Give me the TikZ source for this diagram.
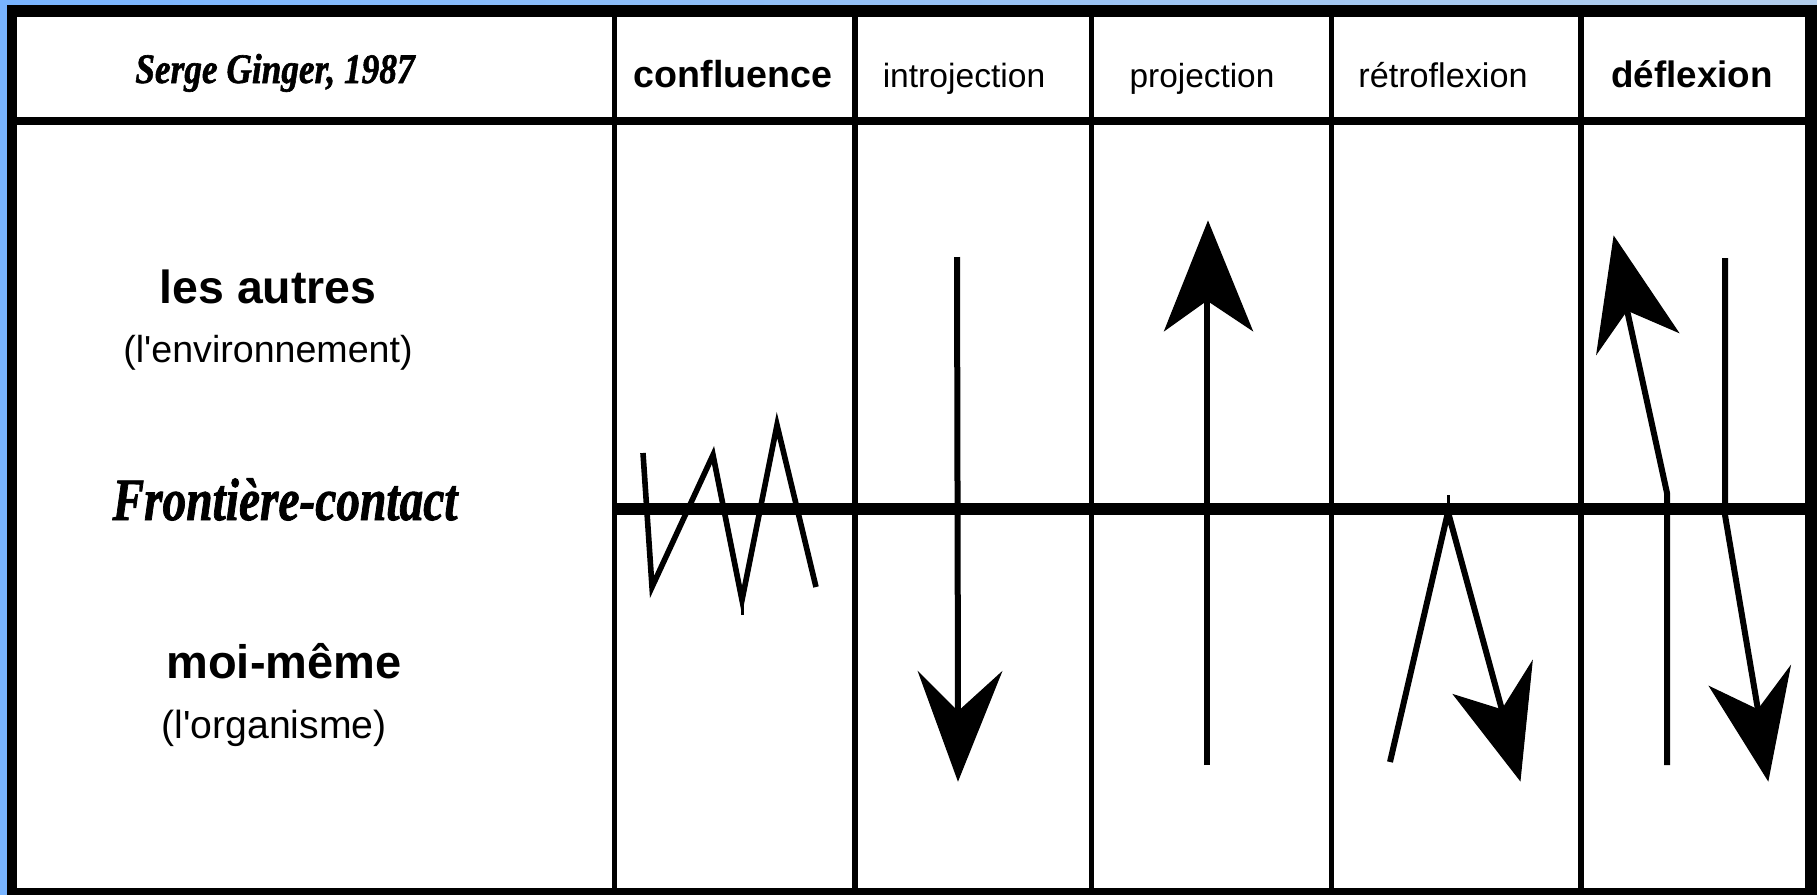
\documentclass[tikz,border=0pt]{standalone}
\usepackage{fontspec}
\usepackage{graphicx}
\setmainfont{Liberation Sans}
\newfontfamily\serifbi{Liberation Serif Bold Italic}[FakeBold=1.5]
\definecolor{bluel}{RGB}{120,180,255}
\definecolor{bluer}{RGB}{178,205,235}
\begin{document}
\begin{tikzpicture}[x=0.5pt,y=-0.5pt,
  rule/.style={line width=2.8pt},
  shaft/.style={line width=3pt, line join=miter},
  head/.style={fill=black, draw=black, line width=0.6pt, line join=miter},
  lbl/.style={inner sep=0pt, anchor=base}]
\useasboundingbox (0,0) rectangle (1817,895);
% background and frame
\shade[left color=bluel, right color=bluer] (0,0) rectangle (1817,895);
\fill[black] (7,5) rectangle (1817,895);
\fill[white] (17,17) rectangle (1805,888);
% header separator
\fill[black] (17,117) rectangle (1805,125);
% column lines
\foreach \cx in {614.5,855,1091.5,1331.5,1581}
  \draw[rule] (\cx,17) -- (\cx,888);
% contact boundary
\fill[black] (612,503) rectangle (1805,515);

% header texts
\node[lbl] (serge) at (275,83) {\serifbi\fontsize{21}{24}\selectfont\scalebox{0.84}[1]{Serge Ginger, 1987}};
\node[lbl] (conf) at (733,87) {\bfseries\fontsize{18.8}{22}\selectfont confluence};
\node[lbl] (intro) at (964,87) {\fontsize{16.8}{20}\selectfont introjection};
\node[lbl] (proj) at (1202,87) {\fontsize{16.7}{20}\selectfont projection};
\node[lbl] (retro) at (1443,87) {\fontsize{17.1}{20}\selectfont rétroflexion};
\node[lbl] (defl) at (1692,87) {\bfseries\fontsize{18.4}{22}\selectfont déflexion};

% left column texts
\node[lbl] (autres) at (268,303) {\bfseries\fontsize{23.2}{27}\selectfont les autres};
\node[lbl] (env) at (268,362) {\fontsize{18.8}{22}\selectfont (l\textquotesingle environnement)};
\node[lbl] (front) at (285,520) {\serifbi\fontsize{30}{34}\selectfont\scalebox{0.79}[1]{Frontière-contact}};
\node[lbl] (moi) at (284,678) {\bfseries\fontsize{23.5}{27}\selectfont moi-même};
\node[lbl] (org) at (274,738) {\fontsize{19.6}{23}\selectfont (l\textquotesingle organisme)};

% confluence zigzag
\coordinate (z0) at (643,453);
\coordinate (z1) at (652,587);
\coordinate (z2) at (713,455);
\coordinate (z3) at (742,600);
\coordinate (z4) at (777,425);
\coordinate (z5) at (816,587);
\draw[shaft, line width=2.8pt] (z0) -- (z1) -- (z2) -- (z3) -- (z4) -- (z5);
\draw[line width=1.5pt] (z3) -- (742,615);

% introjection
\coordinate (iS) at (957,257);
\coordinate (iN) at (958,712);
\coordinate (iT) at (958,780);
\draw[shaft] (iS) -- (iN);
\filldraw[head] (iT) -- (919,673) -- (iN) -- (1001,673) -- cycle;

% projection
\coordinate (pS) at (1207,765);
\coordinate (pN) at (1207,300);
\coordinate (pT) at (1208,222);
\draw[shaft] (pS) -- (pN);
\filldraw[head] (pT) -- (1165,330) -- (pN) -- (1252,330) -- cycle;

% retroflexion
\coordinate (rS) at (1390,762);
\coordinate (rA) at (1448,512);
\coordinate (rN) at (1502,710);
\coordinate (rT) at (1520,780);
\draw[shaft] (rS) -- (rA) -- (rN);
\draw[line width=1.5pt] (1448,495) -- (rA);
\filldraw[head] (rT) -- (1454,695) -- (rN) -- (1532,662) -- cycle;

% deflexion (up)
\coordinate (dS) at (1667,765);
\coordinate (dK) at (1667,493);
\coordinate (dN) at (1627,310);
\coordinate (dT) at (1614,237);
\draw[shaft] (dS) -- (dK) -- (dN);
\filldraw[head] (dT) -- (1597,353) -- (dN) -- (1678,332) -- cycle;

% deflexion (down)
\coordinate (eS) at (1725,258);
\coordinate (eK) at (1725,515);
\coordinate (eN) at (1758,710);
\coordinate (eT) at (1768,780);
\draw[shaft] (eS) -- (eK) -- (eN);
\filldraw[head] (eT) -- (1710,687) -- (eN) -- (1790,667) -- cycle;
\end{tikzpicture}
\end{document}
